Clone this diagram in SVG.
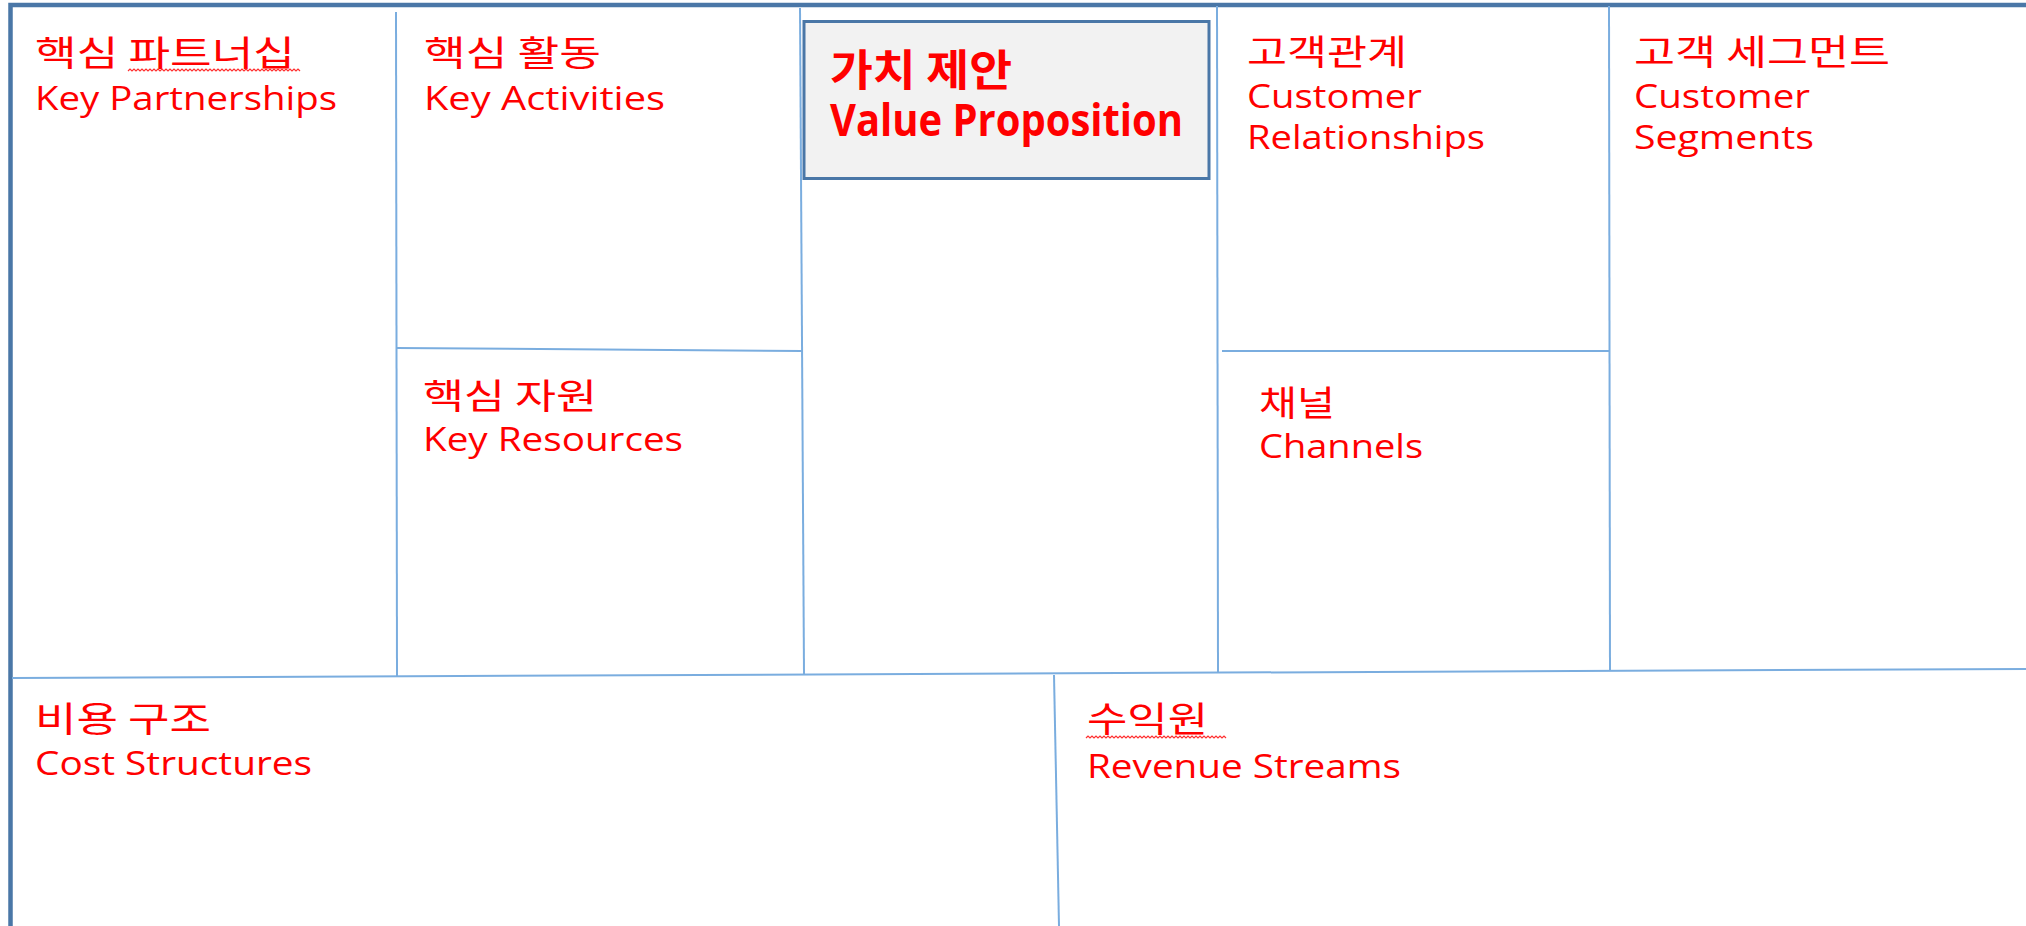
<svg xmlns="http://www.w3.org/2000/svg" width="2026" height="926" viewBox="0 0 2026 926">
<style>
.bg{fill:#ffffff}
.frame{fill:none;stroke:#4a77a7;stroke-width:4.5}
.grid{fill:none;stroke:#7aaddf;stroke-width:2}
.vpbox{fill:#f2f2f2;stroke:#4a77a7;stroke-width:3}
.ko{font-family:"Noto Sans CJK KR","Noto Sans",sans-serif;font-size:35px;fill:#ff0000}
.en{font-family:"Open Sans","Noto Sans",sans-serif;font-size:33px;fill:#ff0000}
.kob{font-family:"Noto Sans CJK KR","Noto Sans",sans-serif;font-size:43px;font-weight:bold;fill:#ff0000}
.enb{font-family:"Open Sans","Noto Sans",sans-serif;font-size:45px;font-weight:bold;fill:#ff0000}
.squig{fill:none;stroke:#ff3030;stroke-width:1.2}
</style>
<rect class="bg" x="0" y="0" width="2026" height="926"/>
<g id="connectors">
<path class="frame" d="M10.5 926 V5 H2026"/>
<line class="grid" x1="396" y1="12" x2="397" y2="676"/>
<line class="grid" x1="800" y1="8" x2="804" y2="674"/>
<line class="grid" x1="1217" y1="6" x2="1218" y2="672"/>
<line class="grid" x1="1609" y1="6" x2="1610" y2="670"/>
<line class="grid" x1="396" y1="348" x2="802" y2="351"/>
<line class="grid" x1="1222" y1="351" x2="1610" y2="351"/>
<line class="grid" x1="12" y1="678" x2="2026" y2="669"/>
<line class="grid" x1="1054" y1="675" x2="1059" y2="926"/>
</g>
<g id="key-partnerships">
<text class="ko" x="35" y="66" textLength="260" lengthAdjust="spacingAndGlyphs">핵심 파트너십</text>
<path class="squig" d="M128 71 l2 -2 l2 2 l2 -2 l2 2 l2 -2 l2 2 l2 -2 l2 2 l2 -2 l2 2 l2 -2 l2 2 l2 -2 l2 2 l2 -2 l2 2 l2 -2 l2 2 l2 -2 l2 2 l2 -2 l2 2 l2 -2 l2 2 l2 -2 l2 2 l2 -2 l2 2 l2 -2 l2 2 l2 -2 l2 2 l2 -2 l2 2 l2 -2 l2 2 l2 -2 l2 2 l2 -2 l2 2 l2 -2 l2 2 l2 -2 l2 2 l2 -2 l2 2 l2 -2 l2 2 l2 -2 l2 2 l2 -2 l2 2 l2 -2 l2 2 l2 -2 l2 2 l2 -2 l2 2 l2 -2 l2 2 l2 -2 l2 2 l2 -2 l2 2 l2 -2 l2 2 l2 -2 l2 2 l2 -2 l2 2 l2 -2 l2 2 l2 -2 l2 2 l2 -2 l2 2 l2 -2 l2 2 l2 -2 l2 2 l2 -2 l2 2 l2 -2 l2 2 l2 -2 l2 2"/>
<text class="en" x="35" y="110" textLength="302" lengthAdjust="spacingAndGlyphs">Key Partnerships</text>
</g>
<g id="key-activities">
<text class="ko" x="424" y="66" textLength="177" lengthAdjust="spacingAndGlyphs">핵심 활동</text>
<text class="en" x="424" y="110" textLength="241" lengthAdjust="spacingAndGlyphs">Key Activities</text>
</g>
<g id="key-resources">
<text class="ko" x="423" y="409" textLength="174" lengthAdjust="spacingAndGlyphs">핵심 자원</text>
<text class="en" x="423" y="451" textLength="260" lengthAdjust="spacingAndGlyphs">Key Resources</text>
</g>
<g id="value-proposition">
<rect class="vpbox" x="804" y="21.5" width="405" height="157"/>
<text class="kob" x="830" y="86" textLength="182" lengthAdjust="spacingAndGlyphs">가치 제안</text>
<text class="enb" x="830" y="136" textLength="353" lengthAdjust="spacingAndGlyphs">Value Proposition</text>
</g>
<g id="customer-relationships">
<text class="ko" x="1247" y="65" textLength="160" lengthAdjust="spacingAndGlyphs">고객관계</text>
<text class="en" x="1247" y="108" textLength="175" lengthAdjust="spacingAndGlyphs">Customer</text>
<text class="en" x="1247" y="149" textLength="238" lengthAdjust="spacingAndGlyphs">Relationships</text>
</g>
<g id="channels">
<text class="ko" x="1259" y="416" textLength="76" lengthAdjust="spacingAndGlyphs">채널</text>
<text class="en" x="1259" y="458" textLength="164" lengthAdjust="spacingAndGlyphs">Channels</text>
</g>
<g id="customer-segments">
<text class="ko" x="1634" y="65" textLength="256" lengthAdjust="spacingAndGlyphs">고객 세그먼트</text>
<text class="en" x="1634" y="108" textLength="176" lengthAdjust="spacingAndGlyphs">Customer</text>
<text class="en" x="1634" y="149" textLength="180" lengthAdjust="spacingAndGlyphs">Segments</text>
</g>
<g id="cost-structures">
<text class="ko" x="35" y="732" textLength="176" lengthAdjust="spacingAndGlyphs">비용 구조</text>
<text class="en" x="35" y="775" textLength="277" lengthAdjust="spacingAndGlyphs">Cost Structures</text>
</g>
<g id="revenue-streams">
<text class="ko" x="1087" y="732" textLength="121" lengthAdjust="spacingAndGlyphs">수익원</text>
<path class="squig" d="M1086 738 l2 -2 l2 2 l2 -2 l2 2 l2 -2 l2 2 l2 -2 l2 2 l2 -2 l2 2 l2 -2 l2 2 l2 -2 l2 2 l2 -2 l2 2 l2 -2 l2 2 l2 -2 l2 2 l2 -2 l2 2 l2 -2 l2 2 l2 -2 l2 2 l2 -2 l2 2 l2 -2 l2 2 l2 -2 l2 2 l2 -2 l2 2 l2 -2 l2 2 l2 -2 l2 2 l2 -2 l2 2 l2 -2 l2 2 l2 -2 l2 2 l2 -2 l2 2 l2 -2 l2 2 l2 -2 l2 2 l2 -2 l2 2 l2 -2 l2 2 l2 -2 l2 2 l2 -2 l2 2 l2 -2 l2 2 l2 -2 l2 2 l2 -2 l2 2 l2 -2 l2 2 l2 -2 l2 2 l2 -2 l2 2"/>
<text class="en" x="1087" y="778" textLength="314" lengthAdjust="spacingAndGlyphs">Revenue Streams</text>
</g>
</svg>
